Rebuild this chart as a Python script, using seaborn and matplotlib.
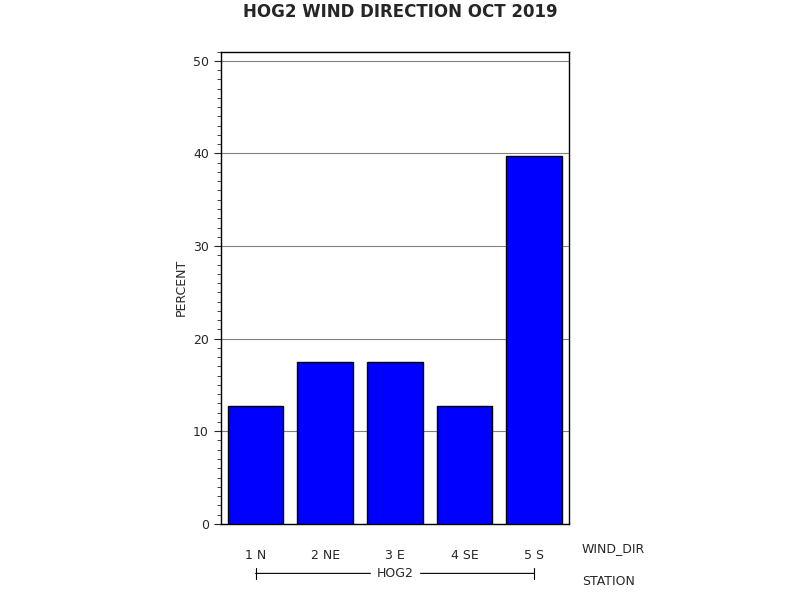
import matplotlib
matplotlib.use("Agg")
import matplotlib.pyplot as plt
import seaborn as sns
from matplotlib.ticker import MultipleLocator

wind_dirs = ["1 N", "2 NE", "3 E", "4 SE", "5 S"]
percent = [12.7, 17.46, 17.46, 12.7, 39.68]
station = "HOG2"

sns.set_style("white")
plt.rcParams["font.family"] = ["DejaVu Sans"]

fig = plt.figure(figsize=(8, 6), dpi=100)
ax = fig.add_axes([0.276, 0.127, 0.435, 0.787])

sns.barplot(x=wind_dirs, y=percent, color="#0000ff", saturation=1,
            edgecolor="black", linewidth=1, width=0.8, ax=ax, zorder=3)

ax.set_ylim(0, 51)
ax.set_xlim(-0.5, 4.5)
ax.yaxis.set_major_locator(MultipleLocator(10))
ax.yaxis.set_minor_locator(MultipleLocator(1))
ax.grid(axis="y", color="gray", linewidth=0.8, zorder=0)
ax.tick_params(axis="y", which="major", length=5, labelsize=9, left=True)
ax.tick_params(axis="y", which="minor", length=3, left=True)
ax.tick_params(axis="x", length=0, labelsize=9, pad=18)
for s in ax.spines.values():
    s.set_color("black")
    s.set_linewidth(1)
ax.set_xlabel("")
ax.set_ylabel("PERCENT", fontsize=9)

fig.text(0.7275, 0.086, "WIND_DIR", fontsize=9, va="center")
fig.text(0.7275, 0.031, "STATION", fontsize=9, va="center")

# station bracket below the categories
y_st = -0.105
ax.annotate("", xy=(0, y_st), xytext=(4, y_st), xycoords=("data", "axes fraction"),
            arrowprops=dict(arrowstyle="|-|", lw=0.8, color="black",
                            mutation_scale=4, shrinkA=0, shrinkB=0),
            annotation_clip=False)
ax.text(2, y_st, station, transform=ax.get_xaxis_transform(), ha="center",
        va="center", fontsize=9, backgroundcolor="white", clip_on=False)

fig.suptitle("HOG2 WIND DIRECTION OCT 2019", fontsize=12, fontweight="bold", y=0.995)

fig.savefig("out.png", dpi=100, facecolor="white")
